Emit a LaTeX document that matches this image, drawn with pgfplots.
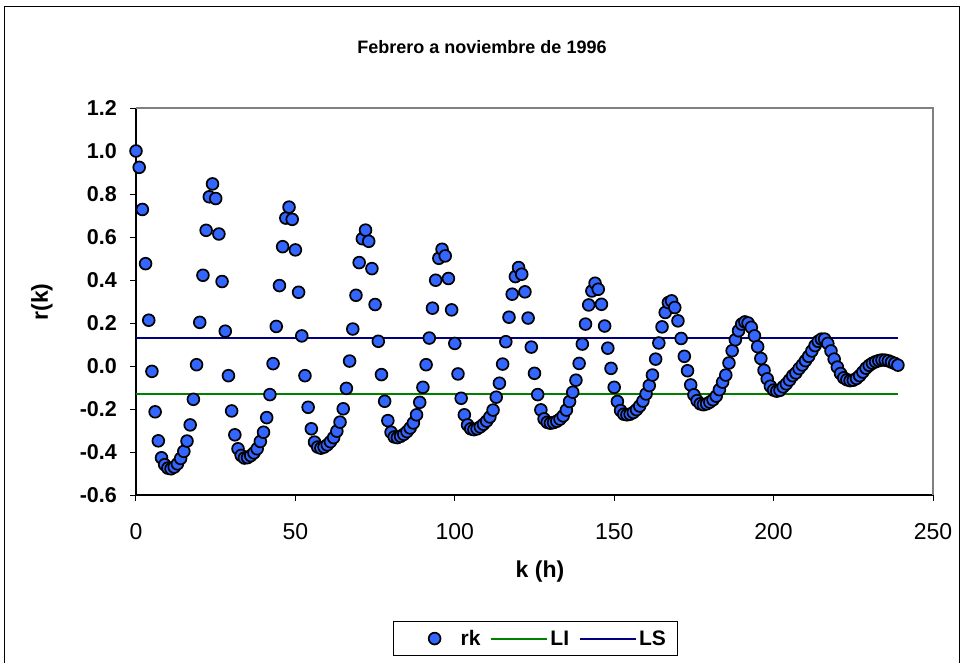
\documentclass[border=0pt]{standalone}
\usepackage{fontspec}
\setmainfont{Liberation Sans}
\usepackage{pgfplots}
\usepackage{pgfplotstable}
\pgfplotsset{compat=1.18}

\definecolor{rkblue}{RGB}{51,102,255}
\definecolor{lsnavy}{RGB}{0,0,128}
\definecolor{ligreen}{RGB}{0,128,0}

\pgfplotsset{
	linelegend/.style={legend image code/.code={\draw[##1] (0pt,0pt) -- (56pt,0pt);}},
	marklegend/.style={legend image code/.code={\path[draw=none] (0pt,0pt) -- (56pt,0pt); \draw[##1] plot coordinates {(32pt,0pt)};}},
	rkmarks/.style={only marks, mark=*, mark size=5.9pt,
		mark options={fill=rkblue, draw=black, line width=1.7pt}},
}

% autocorrelacion r(k), k = 0..239
\pgfplotstableread{
k r
0 1.000
1 0.924
2 0.728
3 0.476
4 0.213
5 -0.025
6 -0.213
7 -0.348
8 -0.427
9 -0.459
10 -0.475
11 -0.478
12 -0.470
13 -0.455
14 -0.430
15 -0.397
16 -0.349
17 -0.274
18 -0.155
19 0.006
20 0.203
21 0.422
22 0.631
23 0.787
24 0.847
25 0.779
26 0.614
27 0.393
28 0.162
29 -0.045
30 -0.209
31 -0.320
32 -0.385
33 -0.416
34 -0.428
35 -0.426
36 -0.417
37 -0.404
38 -0.385
39 -0.351
40 -0.308
41 -0.240
42 -0.133
43 0.011
44 0.184
45 0.374
46 0.555
47 0.688
48 0.739
49 0.682
50 0.540
51 0.343
52 0.140
53 -0.045
54 -0.192
55 -0.292
56 -0.354
57 -0.377
58 -0.382
59 -0.377
60 -0.367
61 -0.352
62 -0.333
63 -0.303
64 -0.261
65 -0.199
66 -0.104
67 0.023
68 0.172
69 0.329
70 0.481
71 0.592
72 0.632
73 0.580
74 0.453
75 0.286
76 0.115
77 -0.040
78 -0.164
79 -0.254
80 -0.308
81 -0.330
82 -0.333
83 -0.327
84 -0.318
85 -0.305
86 -0.288
87 -0.265
88 -0.227
89 -0.169
90 -0.099
91 0.006
92 0.130
93 0.269
94 0.399
95 0.501
96 0.543
97 0.512
98 0.407
99 0.261
100 0.105
101 -0.037
102 -0.150
103 -0.227
104 -0.274
105 -0.292
106 -0.296
107 -0.292
108 -0.283
109 -0.271
110 -0.256
111 -0.237
112 -0.205
113 -0.145
114 -0.080
115 0.009
116 0.113
117 0.227
118 0.334
119 0.416
120 0.458
121 0.427
122 0.345
123 0.223
124 0.088
125 -0.034
126 -0.133
127 -0.204
128 -0.246
129 -0.262
130 -0.266
131 -0.263
132 -0.257
133 -0.247
134 -0.232
135 -0.205
136 -0.165
137 -0.122
138 -0.066
139 0.012
140 0.102
141 0.195
142 0.284
143 0.349
144 0.385
145 0.357
146 0.287
147 0.186
148 0.083
149 -0.011
150 -0.099
151 -0.165
152 -0.207
153 -0.224
154 -0.227
155 -0.224
156 -0.216
157 -0.203
158 -0.186
159 -0.163
160 -0.130
161 -0.091
162 -0.042
163 0.032
164 0.107
165 0.182
166 0.249
167 0.295
168 0.303
169 0.272
170 0.210
171 0.128
172 0.045
173 -0.022
174 -0.088
175 -0.134
176 -0.161
177 -0.176
178 -0.180
179 -0.176
180 -0.168
181 -0.157
182 -0.140
183 -0.110
184 -0.075
185 -0.042
186 0.014
187 0.071
188 0.122
189 0.164
190 0.195
191 0.205
192 0.200
193 0.180
194 0.140
195 0.090
196 0.035
197 -0.020
198 -0.060
199 -0.094
200 -0.112
201 -0.117
202 -0.113
203 -0.097
204 -0.083
205 -0.065
206 -0.045
207 -0.032
208 -0.012
209 0.005
210 0.025
211 0.045
212 0.070
213 0.095
214 0.115
215 0.125
216 0.125
217 0.105
218 0.070
219 0.032
220 -0.005
221 -0.035
222 -0.055
223 -0.064
224 -0.068
225 -0.066
226 -0.058
227 -0.045
228 -0.028
229 -0.010
230 0.003
231 0.013
232 0.020
233 0.025
234 0.028
235 0.027
236 0.024
237 0.018
238 0.012
239 0.004
}\rktable

\begin{document}
\begin{tikzpicture}
\useasboundingbox (-136pt,-167pt) rectangle (828pt,495pt);
% marco exterior del grafico
\draw[black, line width=1pt] (-131pt,488pt) rectangle (823pt,-180pt);
\begin{axis}[
	at={(0pt,0pt)}, anchor=south west,
	scale only axis,
	width=797pt, height=387pt,
	xmin=0, xmax=250,
	ymin=-0.6, ymax=1.2,
	xtick={0,50,...,250},
	ytick={-0.6,-0.4,...,1.2},
	axis lines=left,
	axis line style={-, black, line width=1.2pt},
	tick align=outside,
	major tick length=6pt,
	tick style={black, line width=1pt},
	clip=false,
	/pgf/number format/assume math mode=true,
	yticklabel style={font=\bfseries\fontsize{21.5}{24}\selectfont, inner sep=0pt, xshift=-13pt,
		/pgf/number format/.cd, fixed, fixed zerofill, precision=1},
	xticklabel style={font=\fontsize{23}{26}\selectfont, inner sep=0pt, yshift=-22pt},
	legend style={at={(0.501,-0.371)}, anchor=center, draw=black, line width=0.8pt,
		legend columns=-1, inner xsep=9pt, inner ysep=6.5pt,
		font=\bfseries\fontsize{21}{24}\selectfont,
		/tikz/every even column/.append style={column sep=8pt}},
	legend cell align=left,
]
\addlegendimage{rkmarks, marklegend}
\addlegendentry{rk}
\addplot[ligreen, line width=2pt, linelegend]
	coordinates {(0,-0.129) (239,-0.129)};
\addlegendentry{LI}
\addplot[lsnavy, line width=2pt, linelegend]
	coordinates {(0,0.129) (239,0.129)};
\addlegendentry{LS}
\addplot[rkmarks, forget plot] table[x=k, y=r] {\rktable};
\draw[gray, line width=1.2pt] (rel axis cs:0,1) -- (rel axis cs:1,1) -- (rel axis cs:1,0);
\end{axis}
\node[font=\bfseries\fontsize{18}{21}\selectfont] at (346pt,448pt) {Febrero a noviembre de 1996};
\node[font=\bfseries\fontsize{23}{26}\selectfont, rotate=90] at (-94pt,193pt) {r(k)};
\node[font=\bfseries\fontsize{23}{26}\selectfont] at (404pt,-77pt) {k (h)};
\end{tikzpicture}
\end{document}
